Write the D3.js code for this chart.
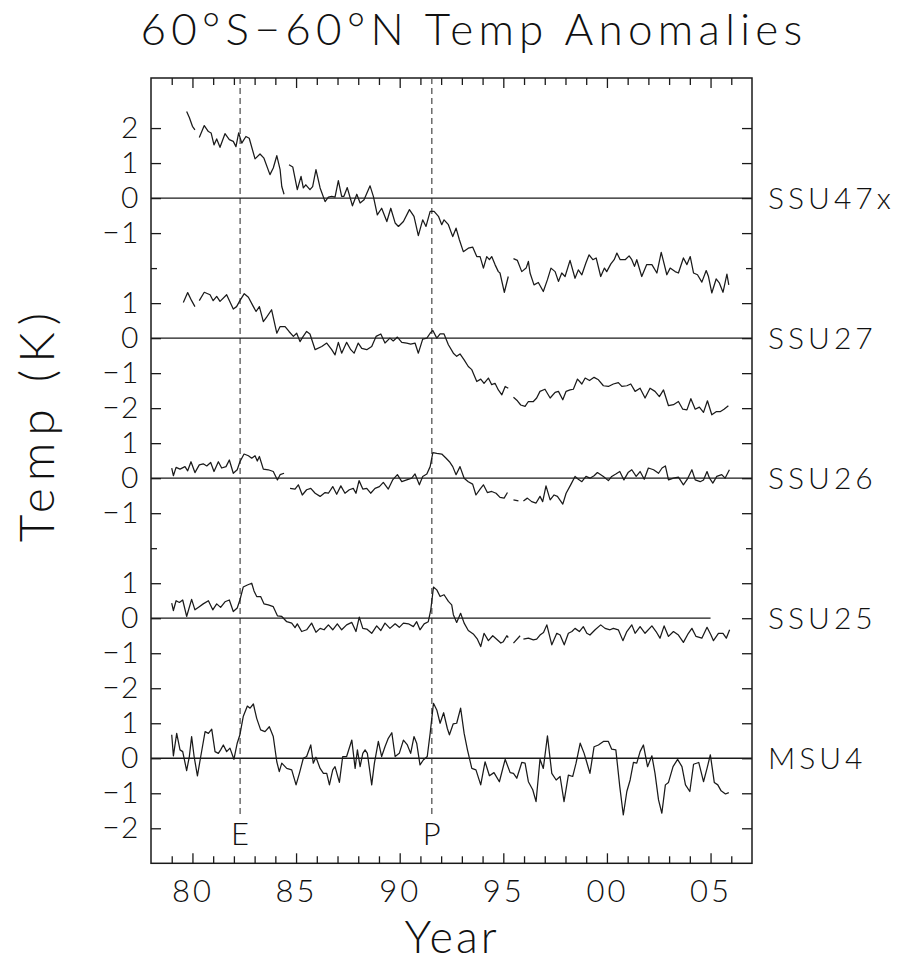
<!DOCTYPE html>
<html>
<head>
<meta charset="utf-8">
<script src="https://cdn.jsdelivr.net/npm/d3@7"></script>
<style>
  html, body { margin: 0; padding: 0; background: #fff; }
  svg { display: block; }
  text { font-family: Lato, "DejaVu Sans", sans-serif; font-weight: 300; fill: #111; }
</style>
</head>
<body>
<svg id="chart" width="897" height="962"></svg>
<script>
// Monthly-smoothed layer temperature anomalies (K), [year, value]; null marks a data gap.
const ssu47x = [
  [1979.72,2.47],[1979.85,2.30],[1980.00,2.05],[1980.12,1.95],null,
  [1980.33,1.73],[1980.57,2.07],[1980.77,1.90],[1980.90,1.86],[1981.04,1.52],[1981.17,1.69],[1981.33,1.45],
  [1981.57,1.84],[1981.78,1.67],[1981.97,1.62],[1982.10,1.47],[1982.23,1.86],[1982.38,1.57],[1982.58,1.76],
  [1982.74,1.71],[1983.02,1.12],[1983.26,1.26],[1983.45,1.14],[1983.74,0.67],[1983.90,0.86],[1984.07,1.21],
  [1984.23,0.81],[1984.31,0.33],[1984.42,0.11],null,
  [1984.66,0.95],[1984.84,0.89],[1985.06,0.24],[1985.24,0.62],[1985.35,0.29],[1985.47,0.38],[1985.67,0.24],
  [1985.80,0.33],[1985.96,0.81],[1986.16,0.29],[1986.40,-0.10],[1986.56,0.03],[1986.72,0.05],[1986.88,0.03],
  [1987.04,0.50],[1987.20,0.05],[1987.31,0.05],[1987.47,0.30],[1987.72,-0.22],[1987.93,0.11],[1988.09,-0.14],
  [1988.28,-0.05],[1988.57,0.35],[1988.73,0.05],[1988.92,-0.48],[1989.13,-0.29],[1989.38,-0.67],[1989.57,-0.29],
  [1989.78,-0.71],[1989.94,-0.81],[1990.18,-0.67],[1990.47,-0.33],[1990.69,-0.52],[1990.90,-1.07],[1991.11,-0.62],
  [1991.27,-0.81],[1991.47,-0.38],[1991.66,-0.38],[1991.87,-0.52],[1992.03,-0.76],[1992.14,-0.62],[1992.35,-0.76],
  [1992.56,-1.10],[1992.72,-0.86],[1992.88,-1.19],[1993.07,-1.53],[1993.31,-1.43],[1993.52,-1.40],[1993.72,-1.67],
  [1993.88,-1.67],[1994.04,-2.00],[1994.20,-1.67],[1994.33,-1.76],[1994.44,-1.67],[1994.60,-1.90],[1994.76,-2.10],
  [1994.84,-2.14],[1995.05,-2.69],[1995.24,-2.24],null,
  [1995.49,-1.73],[1995.68,-1.78],[1995.89,-2.10],[1996.10,-2.00],[1996.21,-1.81],[1996.29,-2.14],[1996.48,-2.48],
  [1996.69,-2.41],[1996.93,-2.67],[1997.13,-2.33],[1997.30,-2.00],[1997.50,-2.10],[1997.66,-2.38],[1997.82,-2.14],
  [1997.98,-2.24],[1998.22,-1.78],[1998.46,-2.29],[1998.62,-2.05],[1998.79,-2.19],[1998.98,-1.86],[1999.14,-1.62],
  [1999.32,-1.76],[1999.48,-1.71],[1999.70,-2.24],[1999.88,-2.00],[1999.99,-2.10],[2000.19,-1.88],[2000.35,-1.76],
  [2000.48,-1.57],[2000.64,-1.76],[2000.88,-1.76],[2001.07,-1.65],[2001.20,-1.76],[2001.33,-1.95],[2001.44,-1.76],
  [2001.68,-2.24],[2001.92,-1.90],[2002.17,-1.90],[2002.41,-2.14],[2002.62,-1.55],[2002.73,-1.81],[2002.89,-2.19],
  [2003.05,-2.00],[2003.29,-2.10],[2003.45,-2.14],[2003.69,-1.71],[2003.86,-1.90],[2004.02,-1.67],[2004.18,-2.14],
  [2004.37,-2.19],[2004.58,-2.40],[2004.79,-2.07],[2004.90,-2.24],[2005.06,-2.71],[2005.27,-2.31],[2005.43,-2.43],
  [2005.60,-2.69],[2005.79,-2.17],[2005.88,-2.48]
];

const ssu27 = [
  [1979.56,1.02],[1979.77,1.30],[1979.96,1.07],[1980.12,0.90],null,
  [1980.33,1.07],[1980.57,1.31],[1980.85,1.24],[1981.00,1.07],[1981.17,1.19],[1981.33,1.05],[1981.65,1.24],
  [1981.97,0.83],[1982.13,0.90],[1982.29,1.07],[1982.50,1.27],[1982.70,1.17],[1982.94,0.90],[1983.07,0.76],
  [1983.23,0.90],[1983.42,0.47],[1983.58,0.60],[1983.82,0.81],[1984.07,0.14],[1984.23,0.33],[1984.47,0.33],
  [1984.66,0.19],[1984.87,0.05],[1985.03,0.14],[1985.19,-0.10],[1985.32,0.03],[1985.51,0.19],[1985.67,0.12],
  [1985.92,-0.33],[1986.24,-0.24],[1986.48,-0.14],[1986.72,-0.33],[1986.88,-0.48],[1987.04,-0.12],[1987.20,-0.43],
  [1987.44,-0.12],[1987.64,-0.33],[1987.80,-0.43],[1988.00,-0.14],[1988.17,-0.29],[1988.41,-0.33],[1988.65,-0.24],
  [1988.86,0.05],[1989.09,0.12],[1989.29,-0.14],[1989.53,0.00],[1989.69,-0.08],[1989.89,0.03],[1990.10,-0.12],
  [1990.34,-0.14],[1990.53,-0.17],[1990.74,-0.14],[1990.90,-0.43],[1991.11,-0.03],[1991.31,0.00],[1991.47,0.14],
  [1991.60,0.22],[1991.79,0.00],[1991.95,0.12],[1992.14,0.12],[1992.35,-0.19],[1992.59,-0.43],[1992.75,-0.52],
  [1992.91,-0.45],[1993.11,-0.62],[1993.31,-0.81],[1993.48,-0.90],[1993.72,-1.24],[1993.91,-1.17],[1994.07,-1.29],
  [1994.28,-1.14],[1994.44,-1.33],[1994.60,-1.29],[1994.76,-1.48],[1994.93,-1.62],[1995.09,-1.38],[1995.24,-1.43],null,
  [1995.49,-1.69],[1995.68,-1.79],[1995.84,-1.91],[1996.05,-1.95],[1996.21,-1.81],[1996.45,-1.81],[1996.61,-1.71],
  [1996.77,-1.52],[1997.01,-1.46],[1997.26,-1.71],[1997.50,-1.55],[1997.66,-1.52],[1997.87,-1.76],[1998.03,-1.52],
  [1998.22,-1.48],[1998.38,-1.46],[1998.58,-1.17],[1998.79,-1.31],[1998.95,-1.14],[1999.16,-1.21],[1999.38,-1.12],
  [1999.59,-1.19],[1999.83,-1.36],[2000.07,-1.38],[2000.31,-1.31],[2000.55,-1.27],[2000.72,-1.38],[2000.96,-1.36],
  [2001.15,-1.31],[2001.36,-1.52],[2001.60,-1.43],[2001.84,-1.71],[2002.08,-1.43],[2002.32,-1.52],[2002.53,-1.67],
  [2002.73,-1.48],[2002.97,-1.93],[2003.21,-1.90],[2003.45,-1.81],[2003.66,-2.03],[2003.86,-2.05],[2004.05,-1.73],
  [2004.26,-2.03],[2004.46,-1.97],[2004.66,-2.12],[2004.85,-1.79],[2005.06,-2.19],[2005.27,-2.10],[2005.46,-2.10],
  [2005.65,-2.03],[2005.86,-1.93]
];

const ssu26 = [
  [1979.00,0.29],[1979.08,0.07],[1979.21,0.31],[1979.40,0.26],[1979.64,0.33],[1979.77,0.21],[1979.93,0.47],
  [1980.12,0.16],[1980.33,0.38],[1980.52,0.41],[1980.69,0.35],[1980.88,0.45],[1981.04,0.19],[1981.25,0.47],
  [1981.41,0.29],[1981.62,0.33],[1981.78,0.52],[1981.97,0.14],[1982.16,0.24],[1982.29,0.47],[1982.49,0.69],
  [1982.70,0.64],[1982.86,0.57],[1983.02,0.64],[1983.13,0.49],[1983.23,0.62],[1983.42,0.26],[1983.66,0.24],
  [1983.90,0.19],[1984.10,-0.05],[1984.23,0.10],[1984.42,0.14],null,
  [1984.71,-0.29],[1984.95,-0.31],[1985.11,-0.19],[1985.30,-0.48],[1985.51,-0.33],[1985.71,-0.29],[1985.92,-0.43],
  [1986.16,-0.52],[1986.40,-0.41],[1986.56,-0.43],[1986.77,-0.24],[1986.96,-0.46],[1987.16,-0.22],[1987.36,-0.43],
  [1987.57,-0.33],[1987.76,-0.29],[1987.89,-0.43],[1988.04,-0.07],[1988.22,-0.31],[1988.41,-0.29],[1988.60,-0.43],
  [1988.81,-0.29],[1989.02,-0.24],[1989.21,-0.12],[1989.45,-0.31],[1989.66,-0.05],[1989.89,0.10],[1990.10,-0.10],
  [1990.34,-0.05],[1990.58,0.00],[1990.74,0.12],[1990.95,-0.19],[1991.11,0.05],[1991.31,0.12],[1991.47,0.33],
  [1991.60,0.73],[1991.79,0.71],[1992.03,0.69],[1992.24,0.57],[1992.40,0.47],[1992.56,0.33],[1992.72,0.10],
  [1992.91,0.33],[1993.11,0.00],[1993.31,-0.10],[1993.52,-0.17],[1993.68,-0.48],[1993.88,-0.31],[1994.04,-0.19],
  [1994.23,-0.41],[1994.44,-0.38],[1994.65,-0.43],[1994.84,-0.55],[1995.04,-0.57],[1995.20,-0.41],null,
  [1995.49,-0.62],[1995.73,-0.65],null,
  [1995.97,-0.65],[1996.16,-0.57],[1996.37,-0.67],[1996.58,-0.71],[1996.77,-0.52],[1996.90,-0.67],[1997.06,-0.22],
  [1997.26,-0.62],[1997.45,-0.48],[1997.61,-0.52],[1997.87,-0.74],[1998.03,-0.43],[1998.25,-0.19],[1998.46,0.05],
  [1998.62,-0.03],[1998.79,-0.10],[1998.99,0.05],[1999.18,0.00],[1999.38,0.07],[1999.54,0.16],[1999.83,0.05],
  [2000.07,-0.07],[2000.23,0.05],[2000.43,0.12],[2000.62,0.19],[2000.82,-0.05],[2001.02,0.16],[2001.20,0.24],
  [2001.41,0.05],[2001.60,0.19],[2001.80,-0.03],[2002.00,0.29],[2002.25,0.24],[2002.49,0.14],[2002.66,0.29],
  [2002.82,0.35],[2002.97,-0.05],[2003.21,0.00],[2003.45,0.03],[2003.69,-0.19],[2003.88,-0.03],[2004.10,0.24],
  [2004.26,-0.05],[2004.50,-0.10],[2004.66,-0.05],[2004.83,0.19],[2004.95,0.00],[2005.11,-0.14],[2005.30,0.05],
  [2005.54,0.10],[2005.70,0.00],[2005.91,0.24]
];

const ssu25 = [
  [1979.00,0.43],[1979.08,0.22],[1979.21,0.50],[1979.37,0.45],[1979.53,0.52],[1979.72,0.05],[1979.96,0.54],
  [1980.12,0.24],[1980.33,0.33],[1980.52,0.41],[1980.77,0.50],[1980.98,0.24],[1981.17,0.41],[1981.36,0.31],
  [1981.57,0.47],[1981.78,0.52],[1981.97,0.19],[1982.16,0.29],[1982.29,0.52],[1982.45,0.89],[1982.65,0.95],
  [1982.86,1.00],[1982.97,0.78],[1983.10,0.62],[1983.29,0.62],[1983.45,0.41],[1983.66,0.38],[1983.90,0.33],
  [1984.10,0.07],[1984.31,0.05],[1984.55,-0.10],[1984.79,-0.14],[1984.95,-0.27],[1985.06,-0.16],[1985.27,-0.38],
  [1985.51,-0.33],[1985.75,-0.14],[1985.96,-0.40],[1986.16,-0.29],[1986.35,-0.33],[1986.56,-0.19],[1986.77,-0.33],
  [1986.99,-0.16],[1987.20,-0.33],[1987.44,-0.19],[1987.69,-0.12],[1987.89,-0.38],[1988.05,0.03],[1988.22,-0.29],
  [1988.41,-0.31],[1988.65,-0.43],[1988.89,-0.22],[1989.09,-0.35],[1989.29,-0.14],[1989.53,-0.29],[1989.78,-0.16],
  [1989.98,-0.26],[1990.18,-0.14],[1990.42,-0.16],[1990.66,-0.24],[1990.82,-0.10],[1990.98,-0.33],[1991.18,-0.16],
  [1991.38,-0.10],[1991.50,0.24],[1991.63,0.89],[1991.79,0.81],[1991.95,0.62],[1992.14,0.67],[1992.35,0.48],
  [1992.51,0.38],[1992.59,0.10],[1992.75,-0.12],[1992.94,0.14],[1993.11,-0.14],[1993.31,-0.35],[1993.55,-0.45],
  [1993.75,-0.60],[1993.91,-0.81],[1994.07,-0.43],[1994.28,-0.64],[1994.49,-0.50],[1994.68,-0.60],[1994.88,-0.71],
  [1995.00,-0.67],[1995.17,-0.50],[1995.24,-0.55],null,
  [1995.49,-0.71],[1995.81,-0.50],null,
  [1995.97,-0.60],[1996.21,-0.57],[1996.45,-0.62],[1996.61,-0.60],[1996.77,-0.48],[1996.94,-0.41],[1997.10,-0.19],
  [1997.34,-0.76],[1997.58,-0.43],[1997.74,-0.48],[1997.94,-0.76],[1998.14,-0.43],[1998.31,-0.38],[1998.46,-0.29],
  [1998.67,-0.38],[1998.86,-0.24],[1999.03,-0.43],[1999.18,-0.48],[1999.43,-0.33],[1999.70,-0.19],[1999.91,-0.29],
  [2000.15,-0.33],[2000.31,-0.29],[2000.55,-0.33],[2000.77,-0.64],[2000.96,-0.38],[2001.20,-0.19],[2001.36,-0.43],
  [2001.60,-0.24],[2001.84,-0.43],[2002.17,-0.22],[2002.37,-0.38],[2002.56,-0.57],[2002.76,-0.22],[2002.97,-0.52],
  [2003.21,-0.38],[2003.45,-0.48],[2003.69,-0.69],[2003.93,-0.43],[2004.10,-0.29],[2004.30,-0.52],[2004.58,-0.57],
  [2004.83,-0.26],[2005.02,-0.48],[2005.14,-0.64],[2005.38,-0.43],[2005.60,-0.43],[2005.76,-0.57],[2005.92,-0.33]
];

const msu4 = [
  [1979.00,0.67],[1979.08,0.07],[1979.24,0.71],[1979.40,0.24],[1979.53,0.19],[1979.72,-0.35],[1979.85,0.05],
  [1979.96,0.62],[1980.08,0.05],[1980.24,-0.50],[1980.40,0.05],[1980.61,0.76],[1980.77,0.71],[1980.93,0.83],
  [1981.09,0.19],[1981.25,0.14],[1981.36,0.24],[1981.49,0.38],[1981.65,0.19],[1981.81,0.29],[1982.00,-0.03],
  [1982.16,0.43],[1982.29,0.67],[1982.45,1.19],[1982.65,1.49],[1982.78,1.43],[1982.94,1.55],[1983.10,1.14],
  [1983.29,0.81],[1983.50,0.76],[1983.71,0.90],[1983.90,0.62],[1984.07,-0.10],[1984.19,-0.38],[1984.31,-0.14],
  [1984.55,-0.29],[1984.79,-0.33],[1985.00,-0.76],[1985.16,-0.43],[1985.35,0.00],[1985.51,0.05],[1985.71,0.38],
  [1985.83,-0.14],[1985.96,0.03],[1986.16,-0.29],[1986.32,-0.43],[1986.48,-0.43],[1986.61,-0.76],[1986.77,-0.33],
  [1986.88,-0.24],[1987.09,-0.69],[1987.25,0.05],[1987.44,0.05],[1987.69,0.52],[1987.85,-0.29],[1987.96,0.24],
  [1988.09,-0.24],[1988.22,0.14],[1988.33,0.24],[1988.44,0.14],[1988.65,-0.76],[1988.78,-0.14],[1988.97,0.48],
  [1989.13,0.05],[1989.29,0.33],[1989.45,0.57],[1989.62,0.73],[1989.78,0.05],[1989.98,0.14],[1990.18,0.52],
  [1990.37,0.38],[1990.53,0.14],[1990.69,0.62],[1990.82,0.43],[1990.98,-0.19],[1991.14,-0.05],[1991.33,0.05],
  [1991.47,0.71],[1991.63,1.57],[1991.79,1.38],[1991.95,1.00],[1992.12,1.30],[1992.30,0.85],[1992.40,0.67],
  [1992.58,0.98],[1992.75,1.00],[1992.94,1.43],[1993.11,0.71],[1993.27,0.24],[1993.48,-0.29],[1993.68,-0.33],
  [1993.91,-0.76],[1994.12,-0.10],[1994.33,-0.50],[1994.55,-0.41],[1994.81,-0.67],[1995.09,-0.03],[1995.33,-0.41],
  [1995.49,-0.43],[1995.65,-0.57],[1995.89,-0.12],[1996.05,-0.14],[1996.21,-0.67],[1996.42,-0.90],[1996.58,-1.24],
  [1996.77,-0.03],[1996.93,-0.29],[1997.13,0.64],[1997.34,-0.43],[1997.55,-0.62],[1997.74,-0.52],[1997.93,-1.24],
  [1998.14,-0.48],[1998.35,-0.52],[1998.51,-0.14],[1998.71,0.43],[1998.90,0.14],[1999.03,-0.12],[1999.18,-0.43],
  [1999.38,0.33],[1999.59,0.38],[1999.83,0.48],[2000.07,0.48],[2000.23,0.26],[2000.43,0.24],[2000.62,-0.81],
  [2000.79,-1.62],[2000.96,-0.95],[2001.12,-0.62],[2001.28,-0.12],[2001.44,-0.14],[2001.60,0.19],[2001.76,0.38],
  [2001.96,-0.24],[2002.17,0.07],[2002.32,-0.43],[2002.49,-1.19],[2002.65,-1.57],[2002.82,-0.76],[2002.97,-0.69],
  [2003.19,-0.24],[2003.41,-0.03],[2003.62,-0.24],[2003.79,-0.76],[2004.00,-0.95],[2004.18,-0.17],[2004.43,-0.12],
  [2004.66,-0.67],[2004.83,-0.29],[2004.99,0.10],[2005.18,-0.69],[2005.35,-0.76],[2005.51,-0.93],[2005.72,-1.02],
  [2005.88,-0.98]
];

// Panel layout: each layer is shifted down by 4 K on a shared axis.
const seriesNames = ["SSU47x", "SSU27", "SSU26", "SSU25", "MSU4"];
const seriesData = [ssu47x, ssu27, ssu26, ssu25, msu4];
const seriesOffsets = [0, -4, -8, -12, -16];
const zeroLineEnd = [2007, 2007, 2007, 2005, 2007];
const panelTickLabels = [[2, 1, 0, -1], [1, 0, -1, -2], [1, 0, -1], [1, 0, -1, -2], [1, 0, -1, -2]];

// Volcanic eruptions: El Chichón and Pinatubo.
const eruptionNames = ["E", "P"];
const eruptionYears = [1982.3, 1991.55];

const majorYears = [1980, 1985, 1990, 1995, 2000, 2005];
const yearLabels = ["80", "85", "90", "95", "00", "05"];
const minorYears = d3.range(1979, 2007);

const svg = d3.select("#chart");
const plotLeft = 151, plotRight = 752, plotTop = 78, plotBottom = 863.3;

const x = d3.scaleLinear().domain([1978, 2007]).range([plotLeft, plotRight]);
const y = d3.scaleLinear().domain([-19, 3.43]).range([plotBottom, plotTop]);

const ink = "#1a1a1a";

// Tick positions on the stacked axis
const labeledTicks = [];
const labelText = new Map();
panelTickLabels.forEach((labels, i) => labels.forEach(v => {
  const pos = v + seriesOffsets[i];
  labeledTicks.push(pos);
  labelText.set(pos, v < 0 ? "\u2212" + Math.abs(v) : String(v));
}));
const allTicks = d3.range(-18, 3);
const plainTicks = allTicks.filter(t => !labeledTicks.includes(t));

function styleAxis(g) {
  g.select(".domain").remove();
  g.selectAll(".tick line").attr("stroke", ink).attr("stroke-width", 1.3);
}

// Left axis
svg.append("g").attr("transform", `translate(${plotLeft},0)`)
  .call(d3.axisLeft(y).tickValues(labeledTicks).tickSize(-10).tickPadding(11)
    .tickFormat(d => labelText.get(d)))
  .call(styleAxis)
  .call(g => g.selectAll(".tick text").attr("font-size", 30).attr("fill", ink)
    .attr("font-family", "Lato, sans-serif").attr("font-weight", 300).attr("letter-spacing", 1.5));
svg.append("g").attr("transform", `translate(${plotLeft},0)`)
  .call(d3.axisLeft(y).tickValues(plainTicks).tickSize(-6).tickFormat(""))
  .call(styleAxis);

// Right axis
svg.append("g").attr("transform", `translate(${plotRight},0)`)
  .call(d3.axisRight(y).tickValues(labeledTicks).tickSize(-10).tickFormat(""))
  .call(styleAxis);
svg.append("g").attr("transform", `translate(${plotRight},0)`)
  .call(d3.axisRight(y).tickValues(plainTicks).tickSize(-6).tickFormat(""))
  .call(styleAxis);

// Bottom axis
svg.append("g").attr("transform", `translate(0,${plotBottom})`)
  .call(d3.axisBottom(x).tickValues(minorYears.filter(v => v % 5 !== 0)).tickSize(-7).tickFormat(""))
  .call(styleAxis);
svg.append("g").attr("transform", `translate(0,${plotBottom})`)
  .call(d3.axisBottom(x).tickValues(majorYears).tickSize(-10).tickPadding(17)
    .tickFormat((d, i) => yearLabels[i]))
  .call(styleAxis)
  .call(g => g.selectAll(".tick text").attr("font-size", 31).attr("fill", ink)
    .attr("font-family", "Lato, sans-serif").attr("font-weight", 300).attr("letter-spacing", 3));

// Top axis
svg.append("g").attr("transform", `translate(0,${plotTop})`)
  .call(d3.axisTop(x).tickValues(minorYears.filter(v => v % 5 !== 0)).tickSize(-7).tickFormat(""))
  .call(styleAxis);
svg.append("g").attr("transform", `translate(0,${plotTop})`)
  .call(d3.axisTop(x).tickValues(majorYears).tickSize(-10).tickFormat(""))
  .call(styleAxis);

// Frame
svg.append("rect")
  .attr("x", plotLeft).attr("y", plotTop).attr("width", plotRight - plotLeft).attr("height", plotBottom - plotTop)
  .attr("fill", "none").attr("stroke", ink).attr("stroke-width", 1.5);

// Eruption markers
svg.append("g").selectAll("line").data(eruptionYears).join("line")
  .attr("x1", d => x(d)).attr("x2", d => x(d))
  .attr("y1", plotTop).attr("y2", 818)
  .attr("stroke", "#555").attr("stroke-width", 1.3).attr("stroke-dasharray", "6,4");
svg.append("g").selectAll("text").data(eruptionYears).join("text")
  .attr("x", d => x(d)).attr("y", 845)
  .attr("text-anchor", "middle").attr("font-size", 31)
  .text((d, i) => eruptionNames[i]);

// Zero lines
svg.append("g").selectAll("line").data(seriesOffsets).join("line")
  .attr("x1", plotLeft).attr("x2", (d, i) => x(zeroLineEnd[i]))
  .attr("y1", d => y(d)).attr("y2", d => y(d))
  .attr("stroke", ink).attr("stroke-width", 1.3);

// Series lines
seriesData.forEach((data, i) => {
  const line = d3.line()
    .defined(d => d !== null)
    .x(d => x(d[0]))
    .y(d => y(d[1] + seriesOffsets[i]));
  svg.append("path").datum(data)
    .attr("fill", "none").attr("stroke", ink).attr("stroke-width", 1.25)
    .attr("stroke-linejoin", "round")
    .attr("d", line);
});

// Series names on the right
svg.append("g").selectAll("text").data(seriesNames).join("text")
  .attr("x", 768).attr("y", (d, i) => y(seriesOffsets[i]))
  .attr("dy", "0.36em").attr("font-size", 30).attr("letter-spacing", 4)
  .text(d => d);

// Titles
svg.append("text").attr("x", 474).attr("y", 45).attr("text-anchor", "middle")
  .attr("font-size", 44).attr("letter-spacing", 5.3)
  .text("60°S\u221260°N Temp Anomalies");
svg.append("text").attr("x", 452).attr("y", 953).attr("text-anchor", "middle")
  .attr("font-size", 45).attr("letter-spacing", 3)
  .text("Year");
svg.append("text").attr("transform", "translate(54,424) rotate(-90)").attr("text-anchor", "middle")
  .attr("font-size", 48).attr("letter-spacing", 7)
  .text("Temp (K)");
</script>
</body>
</html>
